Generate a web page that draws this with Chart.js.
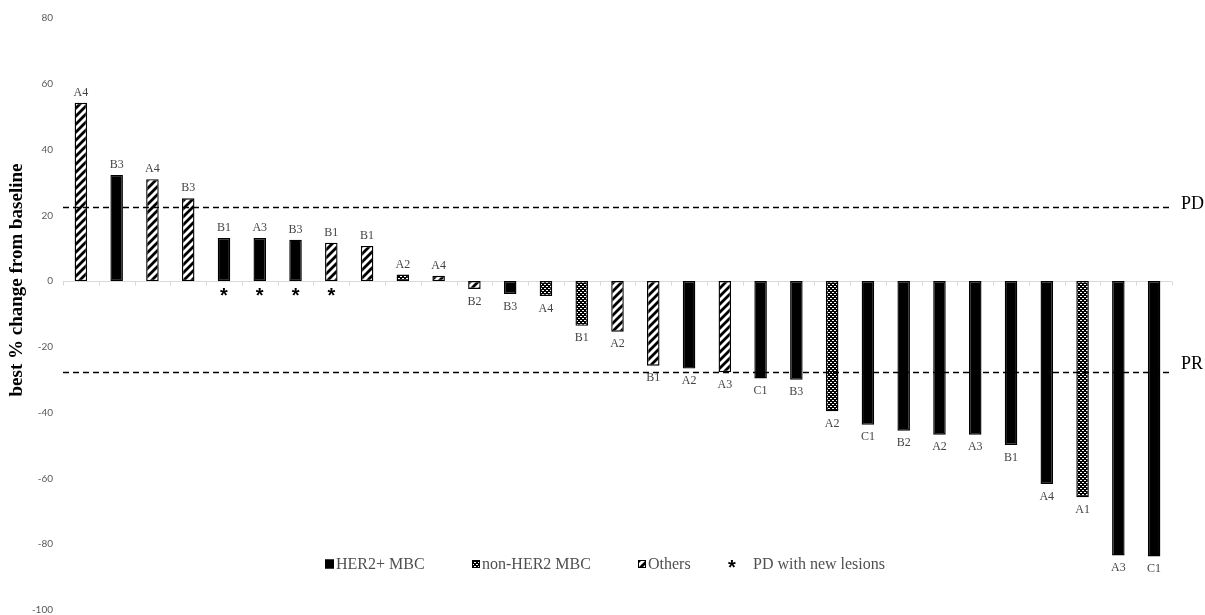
<!DOCTYPE html>
<html>
<head>
<meta charset="utf-8">
<script src="https://cdn.jsdelivr.net/npm/chart.js@4/dist/chart.umd.min.js"></script>
<style>
  html, body { margin: 0; padding: 0; background: #fff; }
  #wrap { width: 1205px; height: 615px; }
</style>
</head>
<body>
<div id="wrap"><canvas id="chart" width="1205" height="615"></canvas></div>
<script>
// Cohort of each patient, ordered by best % change (waterfall order)
const cohorts = ['A4','B3','A4','B3','B1','A3','B3','B1','B1','A2','A4','B2','B3','A4','B1','A2',
                 'B1','A2','A3','C1','B3','A2','C1','B2','A2','A3','B1','A4','A1','A3','C1'];
// Best % change from baseline in target lesions
const bestChange = [54.2, 32.3, 31.0, 25.2, 13.1, 13.1, 12.6, 11.7, 10.7, 2.0, 1.6, -2.4, -3.9, -4.5, -13.6, -15.4,
                    -25.7, -26.6, -27.7, -29.6, -30.0, -39.6, -43.7, -45.5, -46.7, -46.7, -49.8, -61.7, -65.7, -83.4, -83.7];
// Tumour subtype: H = HER2+ MBC, N = non-HER2 MBC, O = others
const subtype = ['O','H','O','O','H','H','H','O','O','N','O','O','H','N','N','O',
                 'O','H','O','H','H','N','H','H','H','H','H','H','N','H','H'];
// 1 = progressive disease with new lesions
const newLesions = [0,0,0,0,1,1,1,1,0,0,0,0,0,0,0,0,0,0,0,0,0,0,0,0,0,0,0,0,0,0,0];
// Response thresholds
const refLabels = ['PD', 'PR'];
const refValues = [22.5, -27.5];
// Axis
const yTickMin = -100;
const yTickMax = 80;
const yTickStep = 20;
const yTitle = 'best % change from baseline';
const legendLabels = ['HER2+ MBC', 'non-HER2 MBC', 'Others', 'PD with new lesions'];

const canvas = document.getElementById('chart');
const ctx = canvas.getContext('2d');

function makeHatch() {
  const s = 8;
  const t = document.createElement('canvas');
  t.width = s; t.height = s;
  const g = t.getContext('2d');
  g.fillStyle = '#fff';
  g.fillRect(0, 0, s, s);
  g.strokeStyle = '#000';
  g.lineWidth = 2.8;
  g.beginPath();
  g.moveTo(-2, s + 2); g.lineTo(s + 2, -2);
  g.moveTo(-2, 2); g.lineTo(2, -2);
  g.moveTo(s - 2, s + 2); g.lineTo(s + 2, s - 2);
  g.stroke();
  return ctx.createPattern(t, 'repeat');
}

function makeDots() {
  const s = 4;
  const t = document.createElement('canvas');
  t.width = s; t.height = s;
  const g = t.getContext('2d');
  g.fillStyle = '#000';
  g.fillRect(0, 0, s, s);
  g.fillStyle = '#fff';
  g.fillRect(0, 0, 2, 1);
  g.fillRect(2, 2, 2, 1);
  return ctx.createPattern(t, 'repeat');
}

const hatch = makeHatch();
const dots = makeDots();
const fillFor = { H: '#000', N: dots, O: hatch };
const barFills = subtype.map(s => fillFor[s]);

const serif = '"Liberation Serif", "Times New Roman", serif';

// Category baseline at 0 with short tick marks between categories
const baseline = {
  id: 'baseline',
  beforeDatasetsDraw(chart) {
    const c = chart.ctx;
    const area = chart.chartArea;
    const x = chart.scales.x;
    const zy = Math.round(chart.scales.y.getPixelForValue(0)) + 0.5;
    c.save();
    c.strokeStyle = '#d9d9d9';
    c.lineWidth = 1;
    c.beginPath();
    c.moveTo(area.left, zy);
    c.lineTo(area.right, zy);
    const n = cohorts.length;
    const half = (x.getPixelForValue(1) - x.getPixelForValue(0)) / 2;
    for (let i = 0; i <= n; i++) {
      const px = Math.round(i < n ? x.getPixelForValue(i) - half : x.getPixelForValue(n - 1) + half) + 0.5;
      c.moveTo(px, zy);
      c.lineTo(px, zy + 4);
    }
    c.stroke();
    c.restore();
  }
};

// Text labels above/below bars, asterisks, threshold lines, axis title, legend
const annotate = {
  id: 'annotate',
  afterDatasetsDraw(chart) {
    const c = chart.ctx;
    const area = chart.chartArea;
    const y = chart.scales.y;
    const bars = chart.getDatasetMeta(0).data;
    c.save();

    // threshold lines
    c.strokeStyle = '#000';
    c.lineWidth = 1.6;
    c.setLineDash([6, 4]);
    refValues.forEach((v, i) => {
      const py = Math.round(y.getPixelForValue(v)) + 0.5;
      c.beginPath();
      c.moveTo(area.left, py);
      c.lineTo(area.right, py);
      c.stroke();
      c.font = '18px ' + serif;
      c.fillStyle = '#000';
      c.textAlign = 'left';
      c.textBaseline = 'alphabetic';
      c.fillText(refLabels[i], area.right + 9, py + (v > 0 ? 1 : -4));
    });
    c.setLineDash([]);

    // cohort labels
    c.font = '12px ' + serif;
    c.fillStyle = '#444';
    c.textAlign = 'center';
    c.textBaseline = 'middle';
    bars.forEach((bar, i) => {
      const v = bestChange[i];
      c.fillText(cohorts[i], bar.x, v >= 0 ? bar.y - 10 : bar.y + 12.5);
    });

    // asterisks for new lesions
    c.font = 'bold 20px "Liberation Sans", Arial, sans-serif';
    c.fillStyle = '#000';
    c.textBaseline = 'alphabetic';
    const m = c.measureText('*');
    const off = (m.actualBoundingBoxAscent - m.actualBoundingBoxDescent) / 2;
    const zero = y.getPixelForValue(0);
    bars.forEach((bar, i) => {
      if (newLesions[i]) c.fillText('*', bar.x, zero + 10.5 + off);
    });

    // y axis title
    c.save();
    c.translate(17, 280);
    c.rotate(-Math.PI / 2);
    c.font = 'bold 19px ' + serif;
    c.fillStyle = '#000';
    c.textAlign = 'center';
    c.textBaseline = 'middle';
    c.fillText(yTitle, 0, 0);
    c.restore();

    // legend
    const ly = 564;
    const starts = [325, 472, 638, 728];
    const swatch = [
      { fill: '#000', size: 9 },
      { fill: dots, size: 8 },
      { fill: hatch, size: 8 }
    ];
    c.font = '16px ' + serif;
    c.textAlign = 'left';
    c.textBaseline = 'middle';
    for (let i = 0; i < 3; i++) {
      const s = swatch[i];
      const x0 = starts[i];
      c.fillStyle = s.fill;
      c.fillRect(x0, ly - s.size / 2, s.size, s.size);
      c.strokeStyle = '#000';
      c.lineWidth = 1;
      c.strokeRect(x0 + 0.5, ly - s.size / 2 + 0.5, s.size - 1, s.size - 1);
      c.fillStyle = '#505050';
      c.fillText(legendLabels[i], x0 + s.size + 2, ly + 1);
    }
    c.font = 'bold 20px "Liberation Sans", Arial, sans-serif';
    c.fillStyle = '#000';
    c.textAlign = 'center';
    c.textBaseline = 'alphabetic';
    c.fillText('*', starts[3] + 4, ly + off);
    c.font = '16px ' + serif;
    c.fillStyle = '#505050';
    c.textAlign = 'left';
    c.textBaseline = 'middle';
    c.fillText(legendLabels[3], starts[3] + 25, ly + 1);

    c.restore();
  }
};

new Chart(canvas, {
  type: 'bar',
  data: {
    labels: cohorts.map((c, i) => i + 1),
    datasets: [{
      data: bestChange,
      backgroundColor: barFills,
      borderColor: '#000',
      borderWidth: 1.4,
      borderSkipped: false,
      categoryPercentage: 1,
      barPercentage: 0.35
    }]
  },
  options: {
    responsive: false,
    animation: false,
    devicePixelRatio: 1,
    layout: { padding: { top: 18, right: 33, bottom: 5, left: 0 } },
    plugins: {
      legend: { display: false },
      tooltip: { enabled: false }
    },
    scales: {
      x: {
        type: 'category',
        display: false,
        offset: true
      },
      y: {
        min: yTickMin,
        max: yTickMax,
        ticks: {
          stepSize: yTickStep,
          color: '#595959',
          font: { family: 'Lato, "Open Sans", sans-serif', size: 10 },
          padding: 10
        },
        grid: { display: false, drawTicks: false },
        border: { display: false },
        afterFit(scale) {
          scale.width = 63;
          scale.paddingTop = 0;
          scale.paddingBottom = 0;
        }
      }
    }
  },
  plugins: [baseline, annotate]
});
</script>
</body>
</html>
